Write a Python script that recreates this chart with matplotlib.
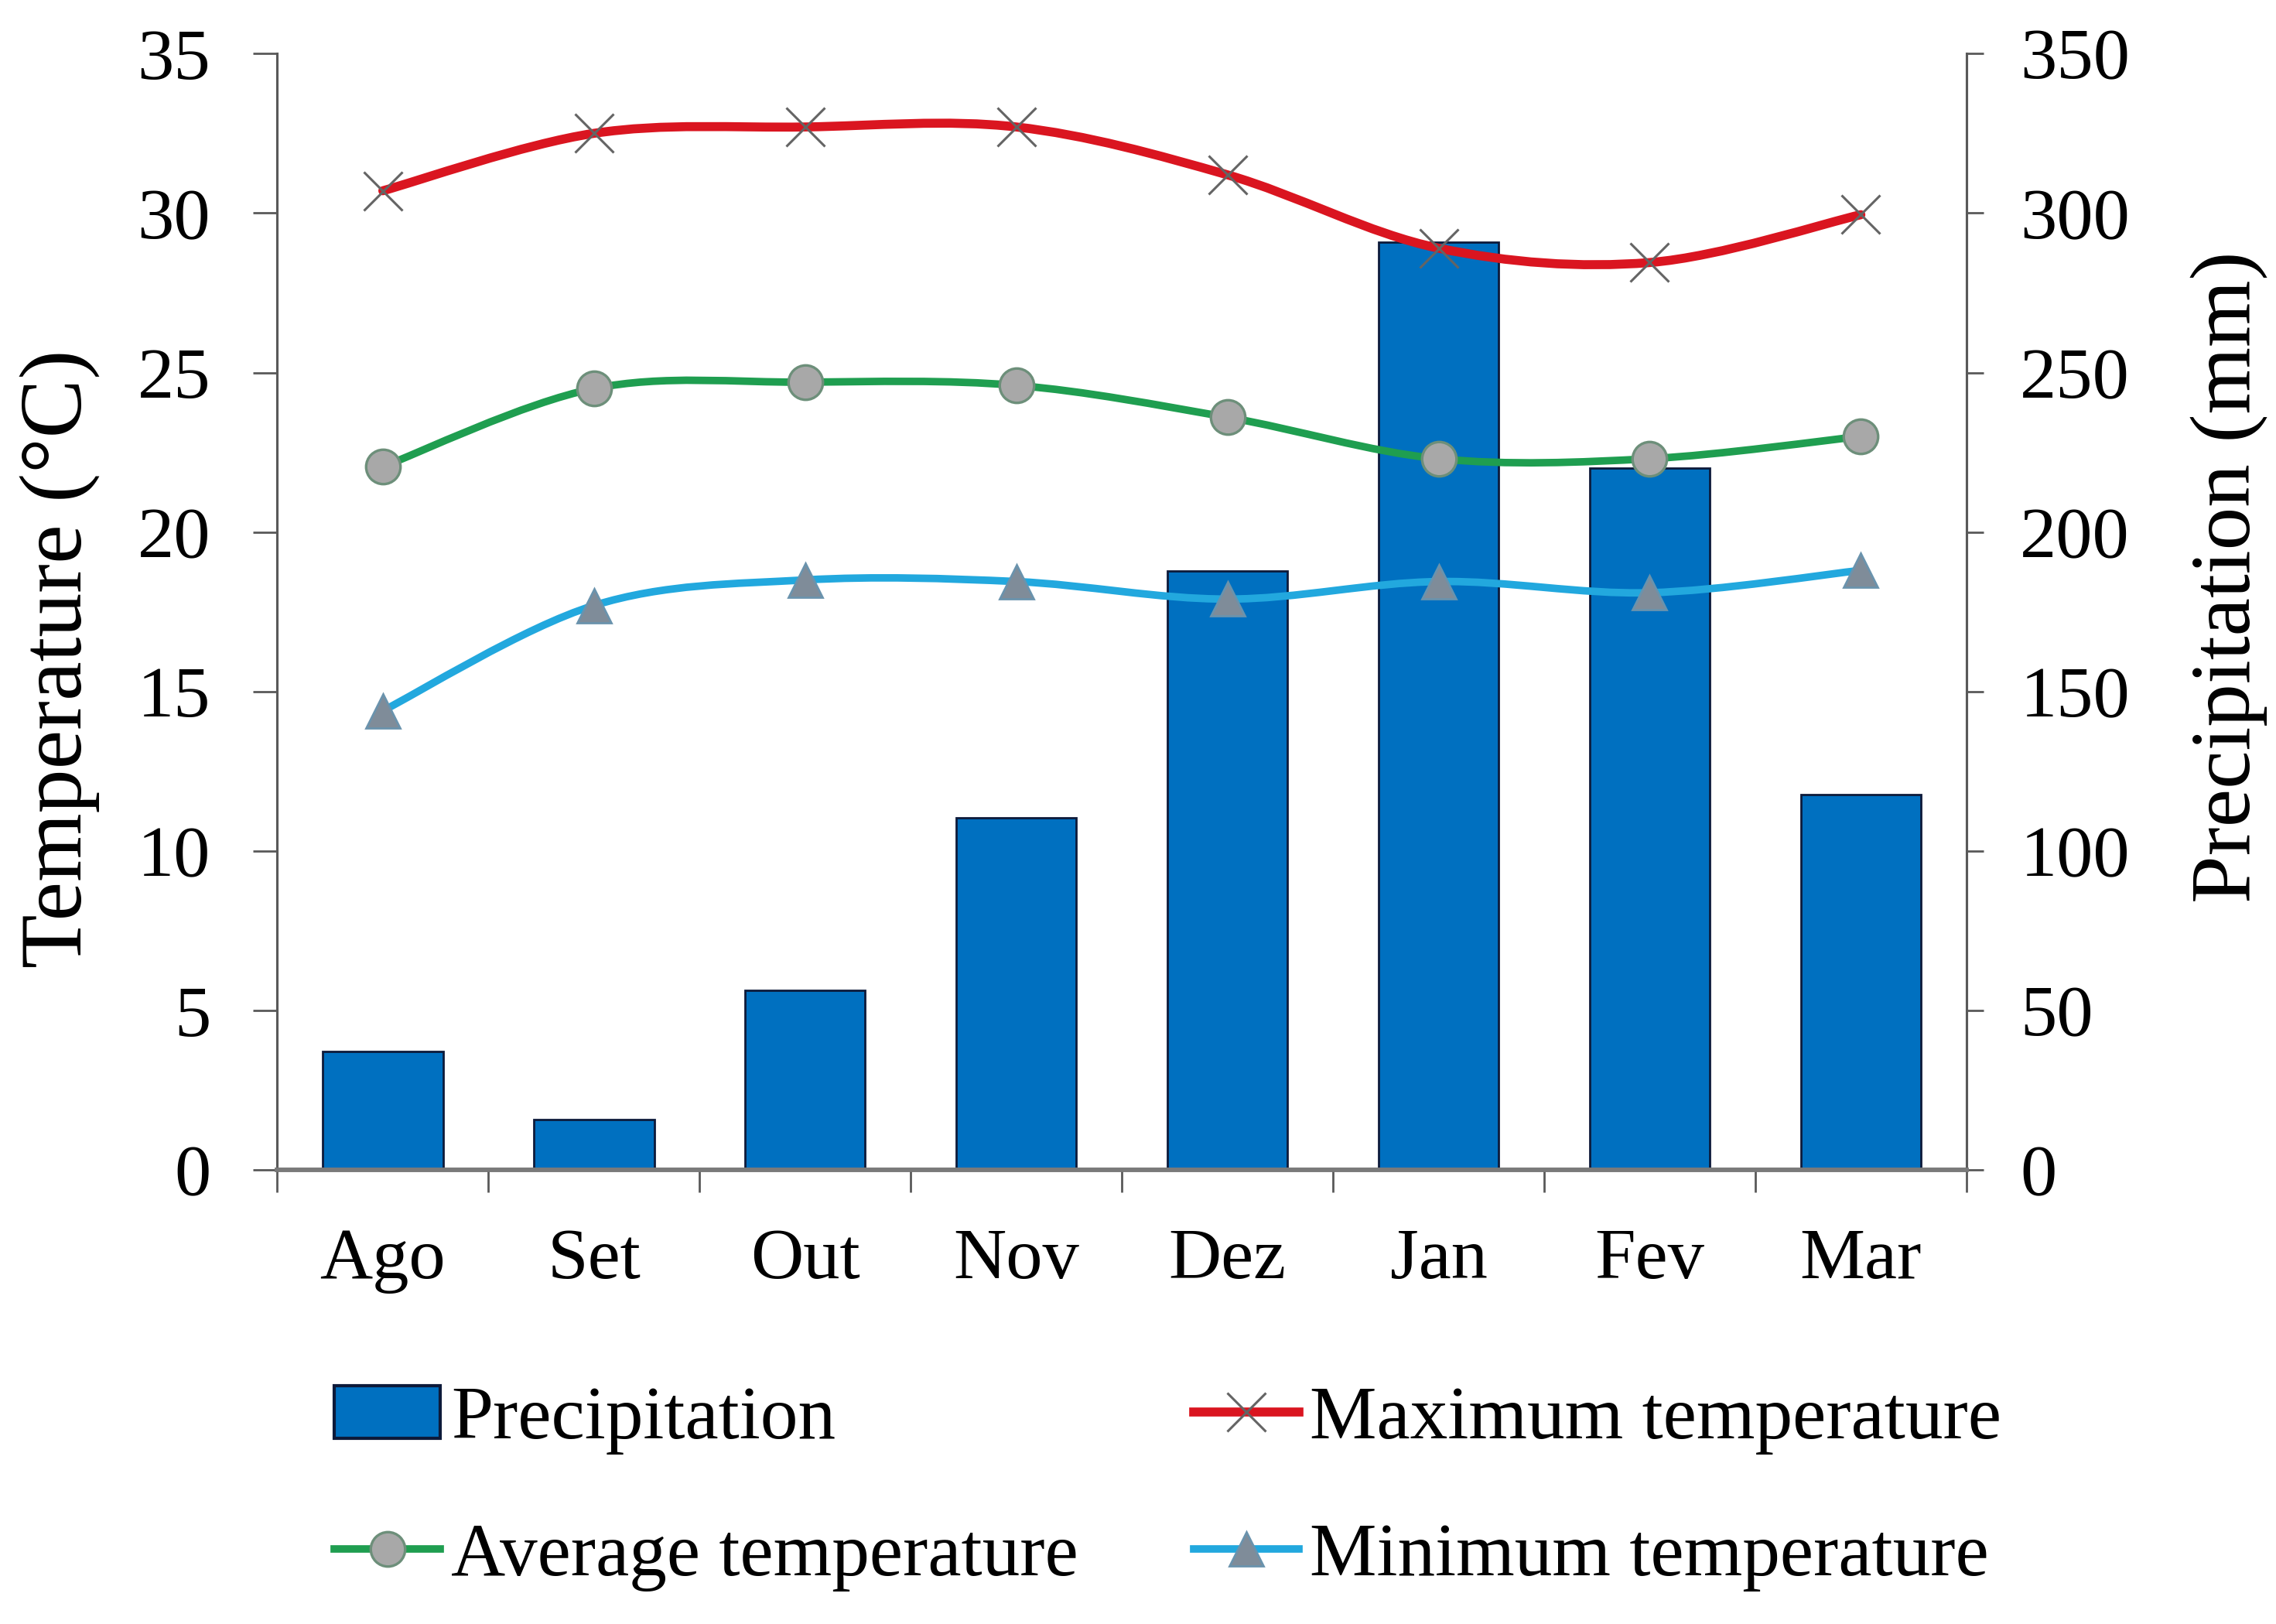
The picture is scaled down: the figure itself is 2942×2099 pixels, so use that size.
import matplotlib
matplotlib.use("Agg")
import matplotlib.pyplot as plt
from matplotlib.path import Path
from matplotlib.patches import PathPatch, Patch
from matplotlib.lines import Line2D
import numpy as np

months = ["Ago", "Set", "Out", "Nov", "Dez", "Jan", "Fev", "Mar"]
precipitation = [37.3, 15.9, 56.4, 110.5, 187.7, 290.9, 220.0, 117.7]
max_temp = [30.7, 32.5, 32.7, 32.7, 31.2, 28.9, 28.45, 29.95]
avg_temp = [22.05, 24.5, 24.7, 24.6, 23.6, 22.3, 22.3, 23.0]
min_temp = [14.4, 17.7, 18.5, 18.45, 17.9, 18.45, 18.1, 18.8]

plt.rcParams['font.family'] = ['Liberation Serif', 'DejaVu Serif']

fig = plt.figure(figsize=(14.71, 10.495), dpi=200)
ax = fig.add_axes([0.1218, 0.2795, 0.864 - 0.1218, 0.967 - 0.2795])
ax2 = ax.twinx()

x = np.arange(len(months))

BAR_EDGE = "#0d1a3a"
# bars on right axis
ax2.bar(x, precipitation, width=0.57, color="#0070C0", edgecolor=BAR_EDGE, linewidth=1.0, zorder=2)
ax2.set_ylim(0, 350)
ax2.set_yticks(np.arange(0, 351, 50))

# temperature axis on top
ax.set_zorder(ax2.get_zorder() + 1)
ax.patch.set_visible(False)


def smooth_path(xs, ys):
    pts = np.column_stack([xs, ys]).astype(float)
    n = len(pts)
    verts = [pts[0]]
    codes = [Path.MOVETO]
    for i in range(n - 1):
        p0 = pts[i - 1] if i > 0 else pts[i]
        p1 = pts[i]
        p2 = pts[i + 1]
        p3 = pts[i + 2] if i + 2 < n else pts[i + 1]
        c1 = p1 + (p2 - p0) / 6.0
        c2 = p2 - (p3 - p1) / 6.0
        verts += [c1, c2, p2]
        codes += [Path.CURVE4] * 3
    return Path(verts, codes)


RED, GREEN, BLUE = "#DA1520", "#1F9E50", "#22A8DE"
mk_max = dict(marker="x", ms=18, mew=1.1, mfc="none", mec="#646464")
mk_avg = dict(marker="o", ms=16, mew=1.2, mfc="#A8A8A8", mec="#6d8f7a")
mk_min = dict(marker="^", ms=16, mew=1.0, mfc="#7F8C99", mec="#6a93ad")
series = [
    (max_temp, RED, 4.2, mk_max),
    (avg_temp, GREEN, 3.5, mk_avg),
    (min_temp, BLUE, 3.5, mk_min),
]
for ys, col, lw, mk in series:
    patch = PathPatch(smooth_path(x, ys), facecolor="none", edgecolor=col, lw=lw, zorder=3,
                      capstyle="round", joinstyle="round")
    ax.add_patch(patch)
    ax.plot(x, ys, linestyle="none", zorder=4, **mk)

ax.set_xlim(-0.5, 7.5)
ax2.set_xlim(-0.5, 7.5)
ax.set_ylim(0, 35)
ax.set_yticks(np.arange(0, 36, 5))

ax.set_xticks(x)
ax.set_xticklabels(months)
ax.set_xticks(np.arange(-0.5, 8, 1), minor=True)
ax.tick_params(axis="x", which="major", length=0, pad=27, labelsize=34)
ax.tick_params(axis="x", which="minor", length=10.5, width=1.0, color="#595959", direction="out")
ax.tick_params(axis="y", length=11, width=1.0, color="#595959", pad=20, labelsize=34)
ax2.tick_params(axis="y", length=8, width=1.0, color="#595959", pad=17, labelsize=34)

for a in (ax, ax2):
    a.spines["top"].set_visible(False)
    a.spines["left"].set_color("#595959")
    a.spines["right"].set_color("#595959")
    a.spines["left"].set_linewidth(1.1)
    a.spines["right"].set_linewidth(1.1)
    a.spines["bottom"].set_color("#7a7a7a")
    a.spines["bottom"].set_linewidth(2.0)

ax.set_ylabel("Temperature (°C)", fontsize=41)
ax.yaxis.set_label_coords(-0.105, 0.458)
ax2.set_ylabel("Precipitation (mm)", fontsize=40)
ax2.yaxis.set_label_coords(1.133, 0.531)

handles = [
    Patch(facecolor="#0070C0", edgecolor=BAR_EDGE, linewidth=1.5),
    Line2D([], [], color=RED, lw=4.2, **mk_max),
    Line2D([], [], color=GREEN, lw=3.5, **mk_avg),
    Line2D([], [], color=BLUE, lw=3.5, **mk_min),
]
labels = ["Precipitation", "Maximum temperature", "Average temperature", "Minimum temperature"]
order = [0, 2, 1, 3]
fig.legend([handles[i] for i in order], [labels[i] for i in order], ncol=2, frameon=False,
           fontsize=35, loc="center left", bbox_to_anchor=(0.147, 0.0834),
           handlelength=1.4, handletextpad=0.15, columnspacing=1.53, labelspacing=0.9,
           borderaxespad=0, borderpad=0)

fig.savefig("out.png", dpi=200, facecolor="white")
